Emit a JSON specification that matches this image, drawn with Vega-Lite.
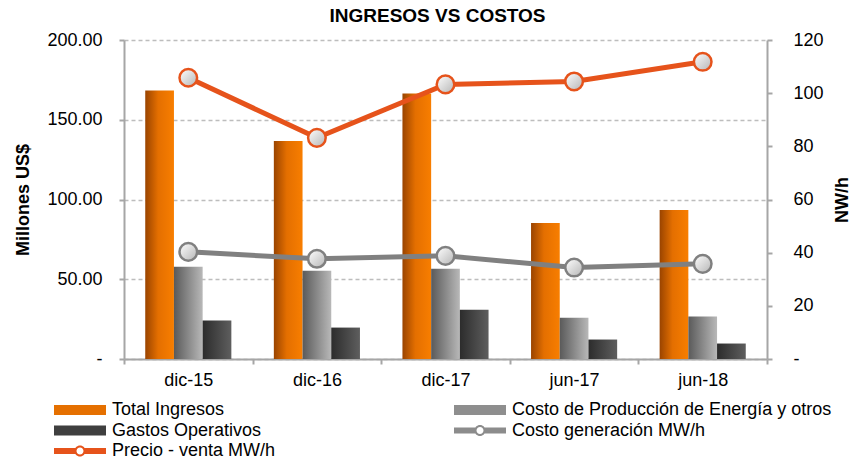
{
  "$schema": "https://vega.github.io/schema/vega-lite/v6.json",
  "width": 643,
  "height": 319,
  "autosize": {"type": "none"},
  "padding": {"left": 124, "top": 40, "right": 87, "bottom": 104},
  "background": "white",
  "title": {"text": "INGRESOS VS COSTOS", "font": "Liberation Sans", "fontSize": 19, "fontWeight": "bold", "color": "#000000", "anchor": "middle", "dx": -8, "offset": 5},
  "data": {"values": [
    {"periodo": "dic-15", "serie": "Total Ingresos", "valor": 168.4},
    {"periodo": "dic-16", "serie": "Total Ingresos", "valor": 136.6},
    {"periodo": "dic-17", "serie": "Total Ingresos", "valor": 166.5},
    {"periodo": "jun-17", "serie": "Total Ingresos", "valor": 85.3},
    {"periodo": "jun-18", "serie": "Total Ingresos", "valor": 93.4},
    {"periodo": "dic-15", "serie": "Costo de Producción de Energía y otros", "valor": 57.8},
    {"periodo": "dic-16", "serie": "Costo de Producción de Energía y otros", "valor": 55.3},
    {"periodo": "dic-17", "serie": "Costo de Producción de Energía y otros", "valor": 56.6},
    {"periodo": "jun-17", "serie": "Costo de Producción de Energía y otros", "valor": 25.9},
    {"periodo": "jun-18", "serie": "Costo de Producción de Energía y otros", "valor": 26.6},
    {"periodo": "dic-15", "serie": "Gastos Operativos", "valor": 24.1},
    {"periodo": "dic-16", "serie": "Gastos Operativos", "valor": 19.7},
    {"periodo": "dic-17", "serie": "Gastos Operativos", "valor": 30.9},
    {"periodo": "jun-17", "serie": "Gastos Operativos", "valor": 12.2},
    {"periodo": "jun-18", "serie": "Gastos Operativos", "valor": 9.7},
    {"periodo": "dic-15", "serie": "Costo generación MW/h", "valor": 40.3},
    {"periodo": "dic-16", "serie": "Costo generación MW/h", "valor": 37.7},
    {"periodo": "dic-17", "serie": "Costo generación MW/h", "valor": 38.8},
    {"periodo": "jun-17", "serie": "Costo generación MW/h", "valor": 34.4},
    {"periodo": "jun-18", "serie": "Costo generación MW/h", "valor": 35.8},
    {"periodo": "dic-15", "serie": "Precio - venta MW/h", "valor": 105.8},
    {"periodo": "dic-16", "serie": "Precio - venta MW/h", "valor": 83.2},
    {"periodo": "dic-17", "serie": "Precio - venta MW/h", "valor": 103.3},
    {"periodo": "jun-17", "serie": "Precio - venta MW/h", "valor": 104.4},
    {"periodo": "jun-18", "serie": "Precio - venta MW/h", "valor": 111.8}
  ]},
  "encoding": {
    "x": {
      "field": "periodo", "type": "nominal",
      "sort": ["dic-15", "dic-16", "dic-17", "jun-17", "jun-18"],
      "scale": {"paddingInner": 0, "paddingOuter": 0},
      "axis": {"title": null, "labelAngle": 0, "tickBand": "extent", "ticks": true, "tickSize": 5, "labelPadding": 7, "grid": false}
    }
  },
  "layer": [
    {
      "encoding": {
        "y": {
          "field": "valor", "type": "quantitative",
          "scale": {"domain": [0, 200]},
          "axis": {
            "orient": "left", "title": "Millones US$", "values": [0, 50, 100, 150, 200],
            "labelExpr": "datum.value == 0 ? '-\u00a0\u00a0' : format(datum.value, '.2f')",
            "grid": true, "gridDash": [4, 3], "gridColor": "#bdbdbd", "gridWidth": 1.5,
            "tickSize": 5, "labelPadding": 17, "titlePadding": 14
          }
        },
        "xOffset": {
          "field": "serie", "type": "nominal",
          "scale": {"domain": ["Total Ingresos", "Costo de Producción de Energía y otros", "Gastos Operativos"], "paddingInner": 0, "paddingOuter": 0.74}
        }
      },
      "layer": [
        {
          "transform": [{"filter": "datum.serie == 'Total Ingresos'"}],
          "mark": {"type": "bar", "fill": {"gradient": "linear", "x1": 0, "y1": 0, "x2": 1, "y2": 0, "stops": [{"offset": 0, "color": "#9a4400"}, {"offset": 0.45, "color": "#e46f00"}, {"offset": 1, "color": "#f87e00"}]}}
        },
        {
          "transform": [{"filter": "datum.serie == 'Costo de Producción de Energía y otros'"}],
          "mark": {"type": "bar", "fill": {"gradient": "linear", "x1": 0, "y1": 0, "x2": 1, "y2": 0, "stops": [{"offset": 0, "color": "#5a5a5a"}, {"offset": 1, "color": "#b8b8b8"}]}}
        },
        {
          "transform": [{"filter": "datum.serie == 'Gastos Operativos'"}],
          "mark": {"type": "bar", "fill": {"gradient": "linear", "x1": 0, "y1": 0, "x2": 1, "y2": 0, "stops": [{"offset": 0, "color": "#2c2c2c"}, {"offset": 1, "color": "#5e5e5e"}]}}
        }
      ]
    },
    {
      "encoding": {
        "y": {
          "field": "valor", "type": "quantitative",
          "scale": {"domain": [0, 120]},
          "axis": {
            "orient": "right", "title": "NW/h", "values": [0, 20, 40, 60, 80, 100, 120],
            "labelExpr": "datum.value == 0 ? '-' : datum.label",
            "grid": false, "tickSize": 5, "labelPadding": 21, "titlePadding": 28, "titleAngle": 270
          }
        }
      },
      "layer": [
        {
          "transform": [{"filter": "datum.serie == 'Costo generación MW/h'"}],
          "mark": {"type": "line", "color": "#808080", "strokeWidth": 5}
        },
        {
          "transform": [{"filter": "datum.serie == 'Costo generación MW/h'"}],
          "mark": {"type": "point", "shape": "circle", "size": 310, "filled": true, "opacity": 1, "stroke": "#808080", "strokeWidth": 2.5,
            "fill": {"gradient": "linear", "x1": 0, "y1": 0, "x2": 1, "y2": 1, "stops": [{"offset": 0, "color": "#ffffff"}, {"offset": 1, "color": "#b5b5b5"}]}}
        },
        {
          "transform": [{"filter": "datum.serie == 'Precio - venta MW/h'"}],
          "mark": {"type": "line", "color": "#e6531b", "strokeWidth": 5}
        },
        {
          "transform": [{"filter": "datum.serie == 'Precio - venta MW/h'"}],
          "mark": {"type": "point", "shape": "circle", "size": 310, "filled": true, "opacity": 1, "stroke": "#e6531b", "strokeWidth": 2.5,
            "fill": {"gradient": "linear", "x1": 0, "y1": 0, "x2": 1, "y2": 1, "stops": [{"offset": 0, "color": "#ffffff"}, {"offset": 1, "color": "#b5b5b5"}]}}
        }
      ]
    },
    {
      "transform": [{"filter": "false"}],
      "mark": {"type": "point", "filled": true, "opacity": 1, "strokeWidth": 0},
      "encoding": {
        "color": {
          "field": "serie", "type": "nominal",
          "scale": {
            "domain": ["Total Ingresos", "Costo de Producción de Energía y otros", "Gastos Operativos", "Costo generación MW/h", "Precio - venta MW/h"],
            "range": ["#e57000", "#8e8e8e", "#3f3f3f", "#8c8c8c", "#e6531b"]
          },
          "legend": {
            "title": null, "orient": "none", "legendX": -70, "legendY": 361, "direction": "horizontal",
            "columns": 2, "columnPadding": 178, "rowPadding": 2.5, "padding": 0,
            "labelFont": "Liberation Sans", "labelFontSize": 18, "labelColor": "#000000", "labelLimit": 500, "labelOffset": 40,
            "symbolSize": 100, "symbolStrokeWidth": 0, "symbolOpacity": 1
          }
        },
        "shape": {
          "field": "serie", "type": "nominal",
          "scale": {
            "domain": ["Total Ingresos", "Costo de Producción de Energía y otros", "Gastos Operativos", "Costo generación MW/h", "Precio - venta MW/h"],
            "range": [
              "M-1.8,-1H8.6V1H-1.8Z",
              "M-1.8,-1H8.6V1H-1.8Z",
              "M-1.8,-1H8.6V1H-1.8Z",
              "M-1.8,-0.6H2.5V0.6H-1.8Z M4.3,-0.6H8.6V0.6H4.3Z M4.5,0A1.1,1.1 0 1,1 2.3,0A1.1,1.1 0 1,1 4.5,0Z M4.1,0A0.7,0.7 0 1,0 2.7,0A0.7,0.7 0 1,0 4.1,0Z",
              "M-1.8,-0.6H2.5V0.6H-1.8Z M4.3,-0.6H8.6V0.6H4.3Z M4.5,0A1.1,1.1 0 1,1 2.3,0A1.1,1.1 0 1,1 4.5,0Z M4.1,0A0.7,0.7 0 1,0 2.7,0A0.7,0.7 0 1,0 4.1,0Z"
            ]
          },
          "legend": {
            "title": null, "orient": "none", "legendX": -70, "legendY": 361, "direction": "horizontal",
            "columns": 2, "columnPadding": 178, "rowPadding": 2.5, "padding": 0,
            "labelFont": "Liberation Sans", "labelFontSize": 18, "labelColor": "#000000", "labelLimit": 500, "labelOffset": 40,
            "symbolSize": 100, "symbolStrokeWidth": 0, "symbolOpacity": 1
          }
        }
      }
    }
  ],
  "resolve": {"scale": {"y": "independent"}},
  "config": {
    "font": "Liberation Sans",
    "view": {"stroke": null},
    "axis": {
      "labelFont": "Liberation Sans", "labelFontSize": 18, "labelColor": "#000000",
      "titleFont": "Liberation Sans", "titleFontSize": 18, "titleFontWeight": "bold", "titleColor": "#000000",
      "domainColor": "#a6a6a6", "domainWidth": 2, "tickColor": "#a6a6a6", "tickWidth": 2
    }
  }
}
